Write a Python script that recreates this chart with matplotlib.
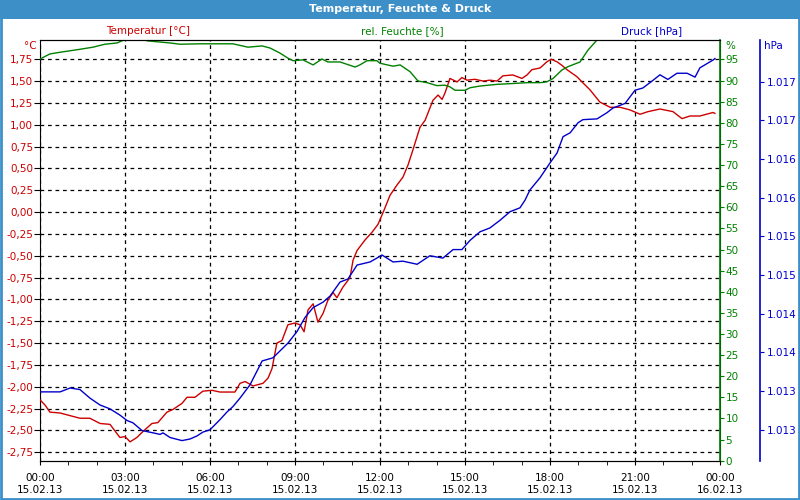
import matplotlib
matplotlib.use("Agg")
import matplotlib.pyplot as plt
import matplotlib.dates as mdates
from matplotlib.patches import Rectangle
from matplotlib.ticker import FixedLocator, FuncFormatter
from datetime import datetime, timedelta
import numpy as np

plt.rcParams['font.family'] = 'DejaVu Sans'
plt.rcParams['font.size'] = 7.5

# Temperatur [°C]  (Stunden ab 15.02.13 00:00)
temp_h = [0.00, 0.18, 0.35, 0.71, 1.06, 1.41, 1.76, 2.12, 2.47, 2.82, 3.00, 3.18, 3.42,
          3.64, 3.95, 4.16, 4.48, 4.69, 5.01, 5.19, 5.47, 5.75, 6.07, 6.35, 6.88, 7.06,
          7.24, 7.52, 7.87, 8.05, 8.19, 8.36, 8.54, 8.75, 9.00, 9.18, 9.32, 9.46, 9.64,
          9.81, 9.99, 10.16, 10.34, 10.48, 10.69, 10.94, 11.05, 11.19, 11.47, 11.72,
          11.93, 12.14, 12.35, 12.60, 12.81, 12.99, 13.16, 13.41, 13.59, 13.87, 14.05,
          14.19, 14.29, 14.47, 14.72, 14.89, 15.07, 15.35, 15.64, 15.88, 16.13, 16.34,
          16.69, 17.01, 17.19, 17.36, 17.65, 17.89, 18.04, 18.25, 18.42, 18.60, 18.95,
          19.13, 19.41, 19.76, 20.12, 20.47, 20.82, 21.18, 21.46, 21.88, 22.34, 22.66,
          22.94, 23.29, 23.75, 23.82]
temp_v = [-2.15, -2.21, -2.29, -2.30, -2.33, -2.36, -2.36, -2.42, -2.43, -2.58, -2.57,
          -2.63, -2.58, -2.51, -2.42, -2.41, -2.29, -2.26, -2.19, -2.12, -2.12, -2.05,
          -2.04, -2.06, -2.06, -1.96, -1.94, -1.99, -1.96, -1.90, -1.79, -1.50, -1.47,
          -1.29, -1.27, -1.29, -1.37, -1.12, -1.05, -1.26, -1.16, -1.01, -0.92, -0.98,
          -0.86, -0.75, -0.55, -0.44, -0.32, -0.23, -0.14, 0.02, 0.19, 0.31, 0.40, 0.54,
          0.71, 0.97, 1.05, 1.28, 1.34, 1.29, 1.36, 1.53, 1.49, 1.54, 1.51, 1.52, 1.50,
          1.51, 1.50, 1.56, 1.57, 1.53, 1.57, 1.63, 1.65, 1.72, 1.75, 1.72, 1.68, 1.63,
          1.55, 1.49, 1.40, 1.26, 1.20, 1.20, 1.17, 1.12, 1.15, 1.18, 1.15, 1.07, 1.10,
          1.10, 1.14, 1.13]

# rel. Feuchte [%]
hum_h = [0.00, 0.35, 0.71, 1.41, 1.87, 2.29, 2.72, 2.89, 3.18, 3.53, 3.78, 4.59, 4.94,
         5.65, 6.81, 7.34, 7.84, 8.12, 8.47, 8.75, 8.93, 9.28, 9.64, 9.95, 10.16, 10.59,
         11.12, 11.29, 11.54, 11.89, 12.00, 12.46, 12.71, 13.06, 13.34, 13.66, 14.01,
         14.29, 14.47, 14.65, 15.00, 15.18, 15.53, 16.13, 16.69, 17.19, 17.65, 17.89,
         18.11, 18.42, 18.64, 19.06, 19.34, 19.66, 19.94, 21.00, 22.50, 23.82]
hum_v = [95.1, 96.3, 96.7, 97.4, 97.9, 98.6, 98.9, 99.4, 100.1, 100.3, 99.4, 98.9, 98.6,
         98.7, 98.7, 97.9, 98.2, 97.7, 96.5, 95.3, 94.7, 94.9, 93.7, 95.1, 94.4, 94.4,
         93.2, 93.7, 94.7, 94.7, 94.1, 93.4, 93.7, 92.1, 89.9, 89.5, 88.8, 88.9, 88.5,
         87.7, 87.7, 88.3, 88.7, 89.1, 89.3, 89.5, 89.5, 89.7, 90.5, 92.5, 93.3, 94.4,
         97.2, 99.6, 102.0, 104.0, 105.0, 105.5]

# Druck [hPa]
pres_h = [0.00, 0.71, 1.06, 1.41, 1.76, 2.12, 2.47, 2.82, 3.07, 3.28, 3.60, 3.99, 4.24,
          4.34, 4.59, 5.01, 5.29, 5.54, 5.75, 6.00, 6.35, 6.60, 6.81, 7.06, 7.41, 7.84,
          8.22, 8.75, 9.07, 9.35, 9.64, 9.99, 10.24, 10.59, 10.87, 11.19, 11.65, 11.89,
          12.07, 12.46, 12.81, 13.31, 13.76, 14.22, 14.58, 14.89, 15.18, 15.53, 15.88,
          16.24, 16.59, 16.94, 17.12, 17.29, 17.65, 18.00, 18.25, 18.46, 18.71, 18.99,
          19.16, 19.66, 20.01, 20.22, 20.65, 21.00, 21.28, 21.64, 21.88, 22.16, 22.48,
          22.84, 23.12, 23.29, 23.75, 23.82]
pres_v = [1013.49, 1013.49, 1013.54, 1013.52, 1013.41, 1013.32, 1013.27, 1013.19,
          1013.12, 1013.09, 1012.99, 1012.96, 1012.94, 1012.96, 1012.90, 1012.86,
          1012.88, 1012.92, 1012.97, 1013.00, 1013.13, 1013.23, 1013.30, 1013.41,
          1013.58, 1013.89, 1013.93, 1014.12, 1014.27, 1014.45, 1014.58, 1014.65,
          1014.73, 1014.91, 1014.95, 1015.13, 1015.17, 1015.22, 1015.26, 1015.17,
          1015.18, 1015.14, 1015.25, 1015.22, 1015.33, 1015.33, 1015.45, 1015.56,
          1015.61, 1015.71, 1015.82, 1015.87, 1015.97, 1016.10, 1016.26, 1016.45,
          1016.58, 1016.79, 1016.84, 1016.97, 1017.01, 1017.02, 1017.10, 1017.16,
          1017.22, 1017.39, 1017.42, 1017.52, 1017.59, 1017.53, 1017.61, 1017.61,
          1017.56, 1017.68, 1017.78, 1017.80]

temp_ticks = np.arange(-2.75, 1.76, 0.25)
hum_ticks = np.arange(0, 96, 5)
pres_ticks = np.arange(1013.0, 1017.6, 0.5)

RED = '#cc0000'
GREEN = '#008000'
BLUE = '#0000cc'
BAR = '#3d8fc8'

start = datetime(2013, 2, 15)
def to_time(hours):
    return [start + timedelta(hours=h) for h in hours]

fig = plt.figure(figsize=(8, 5), dpi=100, facecolor='white')

# Titelleiste und Rahmen
fig.patches.append(Rectangle((0, 0.962), 1, 0.038, transform=fig.transFigure,
                             facecolor=BAR, edgecolor='none', zorder=0))
fig.patches.append(Rectangle((0.0015, 0.002), 0.997, 0.996, transform=fig.transFigure,
                             facecolor='none', edgecolor=BAR, linewidth=2, zorder=5))
fig.text(0.5, 0.981, 'Temperatur, Feuchte & Druck', color='white', fontweight='bold',
         fontsize=8, ha='center', va='center')

ax = fig.add_axes([0.05, 0.0786, 0.85, 0.8414])
ax.set_facecolor('white')
ax2 = ax.twinx()
ax3 = ax.twinx()

ax.plot(to_time(temp_h), temp_v, color=RED, lw=1, zorder=3)
ax2.plot(to_time(hum_h), hum_v, color=GREEN, lw=1)
ax3.plot(to_time(pres_h), pres_v, color=BLUE, lw=1)

t0, t1 = start, start + timedelta(hours=24)
ax.set_xlim(t0, t1)
ax.set_ylim(-2.846, 1.97)
ax2.set_ylim(0, 99.6)
ax3.set_ylim(1012.60, 1018.04)

# x-Achse
ax.xaxis.set_major_locator(mdates.HourLocator(byhour=range(0, 24, 3)))
ax.xaxis.set_minor_locator(mdates.HourLocator())
ax.xaxis.set_major_formatter(mdates.DateFormatter('%H:%M\n%d.%m.%y'))
ax.tick_params(axis='x', which='both', direction='out', length=3, pad=6,
               labelsize=7.5, color='black')

# Temperatur links
ax.yaxis.set_major_locator(FixedLocator(temp_ticks))
ax.yaxis.set_major_formatter(FuncFormatter(lambda v, p: f'{v:.2f}'.replace('.', ',').replace('-0,00', '0,00')))
ax.tick_params(axis='y', direction='out', length=4, colors='black', labelcolor=RED,
               labelsize=7.5, pad=1)
ax.grid(True, color='black', linestyle=(0, (3, 3)), linewidth=0.9)

# Feuchte rechts
ax2.yaxis.set_major_locator(FixedLocator(hum_ticks))
ax2.yaxis.set_major_formatter(FuncFormatter(lambda v, p: f'{v:.0f}'))
ax2.tick_params(axis='y', direction='out', length=3, colors=GREEN, labelsize=7.5, pad=1)
ax2.spines['right'].set_color(GREEN)
ax2.spines['right'].set_linewidth(1.2)

# Druck weiter rechts
ax3.spines['right'].set_position(('axes', 40 / 680 + 1.0))
ax3.spines['right'].set_color(BLUE)
ax3.spines['right'].set_linewidth(1.2)
ax3.yaxis.set_major_locator(FixedLocator(pres_ticks))
ax3.yaxis.set_major_formatter(FuncFormatter(lambda v, p: f'{int(v):,}'.replace(',', '.')))
ax3.tick_params(axis='y', direction='out', length=3, colors=BLUE, labelsize=7.5, pad=2)

for a in (ax, ax2, ax3):
    a.spines['top'].set_color('black')
    a.spines['left'].set_color('black')
    a.spines['bottom'].set_color('black')
ax2.spines['left'].set_visible(False)
ax3.spines['left'].set_visible(False)
ax3.spines['top'].set_visible(False)
ax3.spines['bottom'].set_visible(False)

# Achsentitel
fig.text(148 / 800, 1 - 31 / 500, 'Temperatur [°C]', color=RED, ha='center', va='center')
fig.text(402 / 800, 1 - 31 / 500, 'rel. Feuchte [%]', color=GREEN, ha='center', va='center')
fig.text(652 / 800, 1 - 31 / 500, 'Druck [hPa]', color=BLUE, ha='center', va='center')
fig.text(37 / 800, 1 - 46 / 500, '°C', color=RED, ha='right', va='center')
fig.text(725 / 800, 1 - 46 / 500, '%', color=GREEN, ha='left', va='center')
fig.text(764 / 800, 1 - 46 / 500, 'hPa', color=BLUE, ha='left', va='center')

fig.savefig('out.png', dpi=100, facecolor='white')
